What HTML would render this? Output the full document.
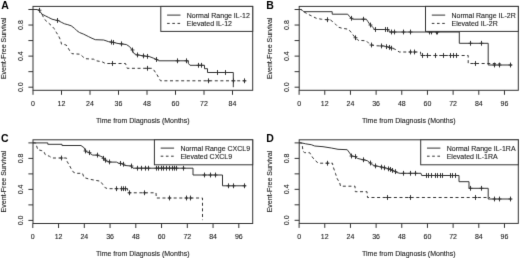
<!DOCTYPE html><html><head><meta charset="utf-8"><style>html,body{margin:0;padding:0;background:#fff;width:520px;height:258px;overflow:hidden}svg{display:block;filter:grayscale(1) }text{fill:#1a1a1a;stroke:#1a1a1a;stroke-width:0.1px}</style></head><body>
<svg width="520" height="258" viewBox="0 0 520 258" font-family="Liberation Sans, sans-serif" fill="#333">
<defs><filter id="bl" color-interpolation-filters="sRGB" x="0" y="0" width="520" height="258" filterUnits="userSpaceOnUse"><feConvolveMatrix order="3" kernelMatrix="0 1 0 1 8 1 0 1 0" edgeMode="duplicate" preserveAlpha="true"/></filter></defs>
<g filter="url(#bl)">
<rect x="0" y="0" width="520" height="258" fill="#fff" stroke="none"/>
<polyline points="33.00,9.50 37.50,9.50 39.00,10.20 42.00,14.20 45.30,15.80 48.70,17.50 52.00,19.20 55.30,20.00 58.00,20.50 61.20,22.20 64.50,23.80 67.80,24.70 71.20,25.80 74.50,28.30 77.00,30.80 79.50,32.50 83.70,34.20 88.70,36.70 92.00,38.30 95.30,39.70 103.70,40.00 108.70,41.70 113.70,42.50 118.00,43.50 126.30,44.50 129.70,46.70 132.20,50.00 133.80,53.30 136.30,54.70 143.00,55.80 149.70,56.70 153.80,58.30 156.70,59.50 158.80,60.80 188.30,60.80 188.30,63.30 190.00,65.30 204.50,65.30 204.50,68.70 207.50,68.70 207.50,72.50 233.30,72.50 233.30,87.20" fill="none" stroke="#333" stroke-width="1"/>
<path d="M39.50 7.80V12.60M37.60 10.20H41.40" stroke="#333" stroke-width="1"/>
<path d="M57.50 18.06V22.86M55.60 20.46H59.40" stroke="#333" stroke-width="1"/>
<path d="M111.50 39.70V44.50M109.60 42.10H113.40" stroke="#333" stroke-width="1"/>
<path d="M113.50 40.10V44.90M111.60 42.50H115.40" stroke="#333" stroke-width="1"/>
<path d="M121.50 41.46V46.26M119.60 43.86H123.40" stroke="#333" stroke-width="1"/>
<path d="M132.50 47.60V52.40M130.60 50.00H134.40" stroke="#333" stroke-width="1"/>
<path d="M137.50 52.53V57.33M135.60 54.93H139.40" stroke="#333" stroke-width="1"/>
<path d="M143.50 53.51V58.31M141.60 55.91H145.40" stroke="#333" stroke-width="1"/>
<path d="M147.50 53.96V58.76M145.60 56.36H149.40" stroke="#333" stroke-width="1"/>
<path d="M156.50 57.10V61.90M154.60 59.50H158.40" stroke="#333" stroke-width="1"/>
<path d="M177.50 58.40V63.20M175.60 60.80H179.40" stroke="#333" stroke-width="1"/>
<path d="M186.50 58.40V63.20M184.60 60.80H188.40" stroke="#333" stroke-width="1"/>
<path d="M198.50 62.90V67.70M196.60 65.30H200.40" stroke="#333" stroke-width="1"/>
<path d="M201.50 62.90V67.70M199.60 65.30H203.40" stroke="#333" stroke-width="1"/>
<path d="M217.50 70.10V74.90M215.60 72.50H219.40" stroke="#333" stroke-width="1"/>
<path d="M225.50 70.10V74.90M223.60 72.50H227.40" stroke="#333" stroke-width="1"/>
<polyline points="33.00,9.50 37.50,9.50 40.50,12.50 42.50,15.50 44.70,19.50 48.00,22.60 51.00,25.20 54.00,28.40 56.20,32.20 58.50,35.80 60.50,40.00 61.50,44.20 62.80,44.20 66.20,45.00 67.80,47.50 70.30,51.70 72.00,53.70 80.30,54.20 82.80,56.70 85.30,58.70 93.70,59.20 96.20,60.80 102.00,61.70 105.30,63.50 125.50,63.50 127.20,68.30 152.20,68.30 153.80,70.00 157.20,75.00 160.50,80.80 246.70,80.80" fill="none" stroke="#333" stroke-width="1" stroke-dasharray="3,2.6"/>
<path d="M112.50 61.10V65.90M110.60 63.50H114.40" stroke="#333" stroke-width="1"/>
<path d="M147.50 65.90V70.70M145.60 68.30H149.40" stroke="#333" stroke-width="1"/>
<path d="M208.50 78.40V83.20M206.60 80.80H210.40" stroke="#333" stroke-width="1"/>
<path d="M233.50 78.40V83.20M231.60 80.80H235.40" stroke="#333" stroke-width="1"/>
<path d="M244.50 78.40V83.20M242.60 80.80H246.40" stroke="#333" stroke-width="1"/>
<polyline points="299.30,9.50 301.50,9.50 302.50,10.50 303.80,11.70 332.20,11.70 332.20,14.20 347.70,14.20 349.70,16.70 351.30,18.30 353.00,19.20 366.30,19.20 368.00,21.70 369.70,24.20 371.30,25.80 373.00,27.50 374.70,29.50 388.80,29.50 389.20,32.00 459.30,32.00 459.30,43.30 488.20,43.30 488.20,65.00 512.00,65.00" fill="none" stroke="#333" stroke-width="1"/>
<path d="M351.50 15.90V20.70M349.60 18.30H353.40" stroke="#333" stroke-width="1"/>
<path d="M363.50 16.80V21.60M361.60 19.20H365.40" stroke="#333" stroke-width="1"/>
<path d="M370.50 22.60V27.40M368.60 25.00H372.40" stroke="#333" stroke-width="1"/>
<path d="M375.50 27.10V31.90M373.60 29.50H377.40" stroke="#333" stroke-width="1"/>
<path d="M385.50 27.10V31.90M383.60 29.50H387.40" stroke="#333" stroke-width="1"/>
<path d="M387.50 27.10V31.90M385.60 29.50H389.40" stroke="#333" stroke-width="1"/>
<path d="M391.50 29.60V34.40M389.60 32.00H393.40" stroke="#333" stroke-width="1"/>
<path d="M394.50 29.60V34.40M392.60 32.00H396.40" stroke="#333" stroke-width="1"/>
<path d="M403.50 29.60V34.40M401.60 32.00H405.40" stroke="#333" stroke-width="1"/>
<path d="M410.50 29.60V34.40M408.60 32.00H412.40" stroke="#333" stroke-width="1"/>
<path d="M429.50 29.60V34.40M427.60 32.00H431.40" stroke="#333" stroke-width="1"/>
<path d="M431.50 29.60V34.40M429.60 32.00H433.40" stroke="#333" stroke-width="1"/>
<path d="M436.50 29.60V34.40M434.60 32.00H438.40" stroke="#333" stroke-width="1"/>
<path d="M437.50 29.60V34.40M435.60 32.00H439.40" stroke="#333" stroke-width="1"/>
<path d="M470.50 40.90V45.70M468.60 43.30H472.40" stroke="#333" stroke-width="1"/>
<path d="M481.50 40.90V45.70M479.60 43.30H483.40" stroke="#333" stroke-width="1"/>
<path d="M494.50 62.60V67.40M492.60 65.00H496.40" stroke="#333" stroke-width="1"/>
<path d="M499.50 62.60V67.40M497.60 65.00H501.40" stroke="#333" stroke-width="1"/>
<path d="M510.50 62.60V67.40M508.60 65.00H512.40" stroke="#333" stroke-width="1"/>
<polyline points="299.30,9.50 301.00,9.50 303.00,11.30 308.00,14.20 311.30,15.80 316.30,18.30 321.30,19.20 330.50,20.00 333.80,22.50 335.50,24.20 338.40,27.20 342.20,28.30 348.40,29.20 351.30,32.50 353.80,36.00 358.00,40.30 366.30,40.80 368.80,43.30 371.30,45.00 376.30,45.80 384.00,46.00 388.00,47.00 395.00,49.20 397.50,50.80 399.20,52.00 420.50,52.00 420.80,55.50 468.20,55.50 468.20,63.50 500.50,63.50" fill="none" stroke="#333" stroke-width="1" stroke-dasharray="3,2.6"/>
<path d="M327.50 17.31V22.11M325.60 19.71H329.40" stroke="#333" stroke-width="1"/>
<path d="M355.50 35.34V40.14M353.60 37.74H357.40" stroke="#333" stroke-width="1"/>
<path d="M371.50 42.60V47.40M369.60 45.00H373.40" stroke="#333" stroke-width="1"/>
<path d="M381.50 43.54V48.34M379.60 45.94H383.40" stroke="#333" stroke-width="1"/>
<path d="M386.50 44.27V49.07M384.60 46.67H388.40" stroke="#333" stroke-width="1"/>
<path d="M389.50 44.98V49.78M387.60 47.38H391.40" stroke="#333" stroke-width="1"/>
<path d="M391.50 45.76V50.56M389.60 48.16H393.40" stroke="#333" stroke-width="1"/>
<path d="M410.50 49.60V54.40M408.60 52.00H412.40" stroke="#333" stroke-width="1"/>
<path d="M414.50 49.60V54.40M412.60 52.00H416.40" stroke="#333" stroke-width="1"/>
<path d="M422.50 53.10V57.90M420.60 55.50H424.40" stroke="#333" stroke-width="1"/>
<path d="M427.50 53.10V57.90M425.60 55.50H429.40" stroke="#333" stroke-width="1"/>
<path d="M435.50 53.10V57.90M433.60 55.50H437.40" stroke="#333" stroke-width="1"/>
<path d="M443.50 53.10V57.90M441.60 55.50H445.40" stroke="#333" stroke-width="1"/>
<path d="M450.50 53.10V57.90M448.60 55.50H452.40" stroke="#333" stroke-width="1"/>
<path d="M453.50 53.10V57.90M451.60 55.50H455.40" stroke="#333" stroke-width="1"/>
<path d="M456.50 53.10V57.90M454.60 55.50H458.40" stroke="#333" stroke-width="1"/>
<path d="M475.50 61.10V65.90M473.60 63.50H477.40" stroke="#333" stroke-width="1"/>
<polyline points="33.00,142.90 47.80,142.90 47.80,144.30 62.00,144.30 62.00,145.50 81.00,145.50 83.00,147.00 84.20,147.80 85.30,151.00 87.00,152.00 89.20,152.40 90.90,154.00 92.70,155.10 97.00,155.10 100.80,156.30 103.10,157.40 104.30,159.20 106.00,160.90 110.10,162.10 116.50,162.10 118.80,163.30 122.00,163.50 124.70,165.50 131.30,166.00 133.00,168.20 193.00,168.20 193.00,175.00 222.50,175.00 222.50,185.80 246.00,185.80" fill="none" stroke="#333" stroke-width="1"/>
<path d="M85.50 148.60V153.40M83.60 151.00H87.40" stroke="#333" stroke-width="1"/>
<path d="M89.50 150.28V155.08M87.60 152.68H91.40" stroke="#333" stroke-width="1"/>
<path d="M97.50 152.70V157.50M95.60 155.10H99.40" stroke="#333" stroke-width="1"/>
<path d="M103.50 155.90V160.70M101.60 158.30H105.40" stroke="#333" stroke-width="1"/>
<path d="M105.50 157.80V162.60M103.60 160.20H107.40" stroke="#333" stroke-width="1"/>
<path d="M109.50 159.52V164.32M107.60 161.92H111.40" stroke="#333" stroke-width="1"/>
<path d="M120.50 161.01V165.81M118.60 163.41H122.40" stroke="#333" stroke-width="1"/>
<path d="M123.50 161.84V166.64M121.60 164.24H125.40" stroke="#333" stroke-width="1"/>
<path d="M131.50 163.60V168.40M129.60 166.00H133.40" stroke="#333" stroke-width="1"/>
<path d="M137.50 165.80V170.60M135.60 168.20H139.40" stroke="#333" stroke-width="1"/>
<path d="M141.50 165.80V170.60M139.60 168.20H143.40" stroke="#333" stroke-width="1"/>
<path d="M145.50 165.80V170.60M143.60 168.20H147.40" stroke="#333" stroke-width="1"/>
<path d="M148.50 165.80V170.60M146.60 168.20H150.40" stroke="#333" stroke-width="1"/>
<path d="M156.50 165.80V170.60M154.60 168.20H158.40" stroke="#333" stroke-width="1"/>
<path d="M158.50 165.80V170.60M156.60 168.20H160.40" stroke="#333" stroke-width="1"/>
<path d="M161.50 165.80V170.60M159.60 168.20H163.40" stroke="#333" stroke-width="1"/>
<path d="M163.50 165.80V170.60M161.60 168.20H165.40" stroke="#333" stroke-width="1"/>
<path d="M166.50 165.80V170.60M164.60 168.20H168.40" stroke="#333" stroke-width="1"/>
<path d="M169.50 165.80V170.60M167.60 168.20H171.40" stroke="#333" stroke-width="1"/>
<path d="M172.50 165.80V170.60M170.60 168.20H174.40" stroke="#333" stroke-width="1"/>
<path d="M174.50 165.80V170.60M172.60 168.20H176.40" stroke="#333" stroke-width="1"/>
<path d="M176.50 165.80V170.60M174.60 168.20H178.40" stroke="#333" stroke-width="1"/>
<path d="M183.50 165.80V170.60M181.60 168.20H185.40" stroke="#333" stroke-width="1"/>
<path d="M204.50 172.60V177.40M202.60 175.00H206.40" stroke="#333" stroke-width="1"/>
<path d="M210.50 172.60V177.40M208.60 175.00H212.40" stroke="#333" stroke-width="1"/>
<path d="M215.50 172.60V177.40M213.60 175.00H217.40" stroke="#333" stroke-width="1"/>
<path d="M228.50 183.40V188.20M226.60 185.80H230.40" stroke="#333" stroke-width="1"/>
<path d="M233.50 183.40V188.20M231.60 185.80H235.40" stroke="#333" stroke-width="1"/>
<path d="M244.50 183.40V188.20M242.60 185.80H246.40" stroke="#333" stroke-width="1"/>
<polyline points="33.00,142.90 35.50,142.90 36.20,144.70 37.80,149.70 41.20,150.50 43.70,151.30 45.30,154.70 49.50,156.30 52.00,158.00 66.50,158.00 67.00,161.30 69.50,165.50 71.20,168.80 73.70,172.50 77.00,173.30 82.50,173.30 84.00,177.50 88.70,179.00 92.00,179.70 100.30,181.20 102.80,184.50 105.30,187.80 107.80,188.70 127.50,188.70 127.80,192.80 156.00,192.80 156.30,198.00 202.50,198.00 202.50,220.10" fill="none" stroke="#333" stroke-width="1" stroke-dasharray="3,2.6"/>
<path d="M61.50 155.60V160.40M59.60 158.00H63.40" stroke="#333" stroke-width="1"/>
<path d="M116.50 186.30V191.10M114.60 188.70H118.40" stroke="#333" stroke-width="1"/>
<path d="M121.50 186.30V191.10M119.60 188.70H123.40" stroke="#333" stroke-width="1"/>
<path d="M123.50 186.30V191.10M121.60 188.70H125.40" stroke="#333" stroke-width="1"/>
<path d="M125.50 186.30V191.10M123.60 188.70H127.40" stroke="#333" stroke-width="1"/>
<path d="M129.50 190.40V195.20M127.60 192.80H131.40" stroke="#333" stroke-width="1"/>
<path d="M144.50 190.40V195.20M142.60 192.80H146.40" stroke="#333" stroke-width="1"/>
<path d="M169.50 195.60V200.40M167.60 198.00H171.40" stroke="#333" stroke-width="1"/>
<path d="M186.50 195.60V200.40M184.60 198.00H188.40" stroke="#333" stroke-width="1"/>
<path d="M190.50 195.60V200.40M188.60 198.00H192.40" stroke="#333" stroke-width="1"/>
<polyline points="299.30,142.90 301.00,142.90 303.00,143.20 305.50,143.80 311.30,144.70 314.70,146.00 323.00,146.70 331.30,148.00 338.00,149.30 347.20,149.70 349.70,153.00 351.60,156.00 355.10,156.60 357.40,158.40 362.10,159.50 367.30,160.70 370.20,163.00 372.60,164.80 374.90,165.90 379.50,166.50 386.70,168.30 391.70,170.00 396.70,172.50 400.00,173.30 421.00,173.30 421.70,175.50 459.00,175.50 459.00,181.70 469.00,181.70 469.00,188.30 488.20,188.30 488.20,199.00 511.50,199.00" fill="none" stroke="#333" stroke-width="1"/>
<path d="M351.50 153.62V158.42M349.60 156.02H353.40" stroke="#333" stroke-width="1"/>
<path d="M355.50 154.20V159.00M353.60 156.60H357.40" stroke="#333" stroke-width="1"/>
<path d="M363.50 157.38V162.18M361.60 159.78H365.40" stroke="#333" stroke-width="1"/>
<path d="M370.50 160.60V165.40M368.60 163.00H372.40" stroke="#333" stroke-width="1"/>
<path d="M375.50 163.51V168.31M373.60 165.91H377.40" stroke="#333" stroke-width="1"/>
<path d="M381.50 164.70V169.50M379.60 167.10H383.40" stroke="#333" stroke-width="1"/>
<path d="M384.50 165.43V170.23M382.60 167.83H386.40" stroke="#333" stroke-width="1"/>
<path d="M388.50 166.44V171.24M386.60 168.84H390.40" stroke="#333" stroke-width="1"/>
<path d="M390.50 167.02V171.82M388.60 169.42H392.40" stroke="#333" stroke-width="1"/>
<path d="M392.50 168.00V172.80M390.60 170.40H394.40" stroke="#333" stroke-width="1"/>
<path d="M395.50 169.25V174.05M393.60 171.65H397.40" stroke="#333" stroke-width="1"/>
<path d="M403.50 170.90V175.70M401.60 173.30H405.40" stroke="#333" stroke-width="1"/>
<path d="M410.50 170.90V175.70M408.60 173.30H412.40" stroke="#333" stroke-width="1"/>
<path d="M415.50 170.90V175.70M413.60 173.30H417.40" stroke="#333" stroke-width="1"/>
<path d="M426.50 173.10V177.90M424.60 175.50H428.40" stroke="#333" stroke-width="1"/>
<path d="M428.50 173.10V177.90M426.60 175.50H430.40" stroke="#333" stroke-width="1"/>
<path d="M431.50 173.10V177.90M429.60 175.50H433.40" stroke="#333" stroke-width="1"/>
<path d="M435.50 173.10V177.90M433.60 175.50H437.40" stroke="#333" stroke-width="1"/>
<path d="M437.50 173.10V177.90M435.60 175.50H439.40" stroke="#333" stroke-width="1"/>
<path d="M440.50 173.10V177.90M438.60 175.50H442.40" stroke="#333" stroke-width="1"/>
<path d="M442.50 173.10V177.90M440.60 175.50H444.40" stroke="#333" stroke-width="1"/>
<path d="M450.50 173.10V177.90M448.60 175.50H452.40" stroke="#333" stroke-width="1"/>
<path d="M452.50 173.10V177.90M450.60 175.50H454.40" stroke="#333" stroke-width="1"/>
<path d="M455.50 173.10V177.90M453.60 175.50H457.40" stroke="#333" stroke-width="1"/>
<path d="M470.50 185.90V190.70M468.60 188.30H472.40" stroke="#333" stroke-width="1"/>
<path d="M481.50 185.90V190.70M479.60 188.30H483.40" stroke="#333" stroke-width="1"/>
<path d="M494.50 196.60V201.40M492.60 199.00H496.40" stroke="#333" stroke-width="1"/>
<path d="M499.50 196.60V201.40M497.60 199.00H501.40" stroke="#333" stroke-width="1"/>
<path d="M510.50 196.60V201.40M508.60 199.00H512.40" stroke="#333" stroke-width="1"/>
<polyline points="299.30,142.90 301.50,142.90 302.20,144.70 303.00,151.30 304.70,152.70 309.70,152.70 311.30,155.50 313.00,158.00 315.50,160.50 318.00,163.20 332.50,163.20 333.00,166.30 335.50,173.50 337.20,178.70 339.70,182.80 340.50,186.20 355.00,186.20 355.30,191.70 367.00,191.70 367.50,197.50 490.00,197.50" fill="none" stroke="#333" stroke-width="1" stroke-dasharray="3,2.6"/>
<path d="M327.50 160.80V165.60M325.60 163.20H329.40" stroke="#333" stroke-width="1"/>
<path d="M387.50 195.10V199.90M385.60 197.50H389.40" stroke="#333" stroke-width="1"/>
<path d="M410.50 195.10V199.90M408.60 197.50H412.40" stroke="#333" stroke-width="1"/>
<path d="M475.50 195.10V199.90M473.60 197.50H477.40" stroke="#333" stroke-width="1"/>
<rect x="33" y="6.4" width="219.7" height="83.89999999999999" fill="none" stroke="#333" stroke-width="1"/>
<line x1="33.00" y1="90.3" x2="33.00" y2="94.8" stroke="#333" stroke-width="1"/>
<text x="33.00" y="105.6" text-anchor="middle" font-size="7">0</text>
<line x1="61.50" y1="90.3" x2="61.50" y2="94.8" stroke="#333" stroke-width="1"/>
<text x="61.50" y="105.6" text-anchor="middle" font-size="7">12</text>
<line x1="90.00" y1="90.3" x2="90.00" y2="94.8" stroke="#333" stroke-width="1"/>
<text x="90.00" y="105.6" text-anchor="middle" font-size="7">24</text>
<line x1="118.50" y1="90.3" x2="118.50" y2="94.8" stroke="#333" stroke-width="1"/>
<text x="118.50" y="105.6" text-anchor="middle" font-size="7">36</text>
<line x1="147.00" y1="90.3" x2="147.00" y2="94.8" stroke="#333" stroke-width="1"/>
<text x="147.00" y="105.6" text-anchor="middle" font-size="7">48</text>
<line x1="175.50" y1="90.3" x2="175.50" y2="94.8" stroke="#333" stroke-width="1"/>
<text x="175.50" y="105.6" text-anchor="middle" font-size="7">60</text>
<line x1="204.00" y1="90.3" x2="204.00" y2="94.8" stroke="#333" stroke-width="1"/>
<text x="204.00" y="105.6" text-anchor="middle" font-size="7">72</text>
<line x1="232.50" y1="90.3" x2="232.50" y2="94.8" stroke="#333" stroke-width="1"/>
<text x="232.50" y="105.6" text-anchor="middle" font-size="7">84</text>
<line x1="28.4" y1="87.19" x2="33" y2="87.19" stroke="#333" stroke-width="1"/>
<line x1="28.4" y1="71.66" x2="33" y2="71.66" stroke="#333" stroke-width="1"/>
<line x1="28.4" y1="56.12" x2="33" y2="56.12" stroke="#333" stroke-width="1"/>
<line x1="28.4" y1="40.58" x2="33" y2="40.58" stroke="#333" stroke-width="1"/>
<line x1="28.4" y1="25.04" x2="33" y2="25.04" stroke="#333" stroke-width="1"/>
<line x1="28.4" y1="9.51" x2="33" y2="9.51" stroke="#333" stroke-width="1"/>
<text transform="translate(23.2,87.19) rotate(-90)" text-anchor="middle" font-size="7">0.0</text>
<text transform="translate(23.2,56.12) rotate(-90)" text-anchor="middle" font-size="7">0.4</text>
<text transform="translate(23.2,25.04) rotate(-90)" text-anchor="middle" font-size="7">0.8</text>
<text x="142.85" y="122.6" text-anchor="middle" font-size="7">Time from Diagnosis (Months)</text>
<text transform="translate(5.600000000000001,48.35) rotate(-90)" text-anchor="middle" font-size="7">Event-Free Survival</text>
<text x="1.2" y="9.0" font-size="10.5" font-weight="bold" style="fill:#000;stroke:none" fill="#000">A</text>
<rect x="160.80" y="6.4" width="91.90" height="25.0" fill="#fff" stroke="#333" stroke-width="1"/>
<line x1="167.10" y1="15.1" x2="180.50" y2="15.1" stroke="#333" stroke-width="1"/>
<line x1="167.10" y1="23.4" x2="180.50" y2="23.4" stroke="#333" stroke-width="1" stroke-dasharray="2.6,2.6"/>
<text x="186.80" y="17.9" font-size="7">Normal Range IL-12</text>
<text x="186.80" y="25.9" font-size="7">Elevated IL-12</text>
<rect x="299.2" y="6.4" width="219.09999999999997" height="83.89999999999999" fill="none" stroke="#333" stroke-width="1"/>
<line x1="299.10" y1="90.3" x2="299.10" y2="94.8" stroke="#333" stroke-width="1"/>
<text x="299.10" y="105.6" text-anchor="middle" font-size="7">0</text>
<line x1="324.77" y1="90.3" x2="324.77" y2="94.8" stroke="#333" stroke-width="1"/>
<text x="324.77" y="105.6" text-anchor="middle" font-size="7">12</text>
<line x1="350.44" y1="90.3" x2="350.44" y2="94.8" stroke="#333" stroke-width="1"/>
<text x="350.44" y="105.6" text-anchor="middle" font-size="7">24</text>
<line x1="376.11" y1="90.3" x2="376.11" y2="94.8" stroke="#333" stroke-width="1"/>
<text x="376.11" y="105.6" text-anchor="middle" font-size="7">36</text>
<line x1="401.78" y1="90.3" x2="401.78" y2="94.8" stroke="#333" stroke-width="1"/>
<text x="401.78" y="105.6" text-anchor="middle" font-size="7">48</text>
<line x1="427.45" y1="90.3" x2="427.45" y2="94.8" stroke="#333" stroke-width="1"/>
<text x="427.45" y="105.6" text-anchor="middle" font-size="7">60</text>
<line x1="453.12" y1="90.3" x2="453.12" y2="94.8" stroke="#333" stroke-width="1"/>
<text x="453.12" y="105.6" text-anchor="middle" font-size="7">72</text>
<line x1="478.79" y1="90.3" x2="478.79" y2="94.8" stroke="#333" stroke-width="1"/>
<text x="478.79" y="105.6" text-anchor="middle" font-size="7">84</text>
<line x1="504.46" y1="90.3" x2="504.46" y2="94.8" stroke="#333" stroke-width="1"/>
<text x="504.46" y="105.6" text-anchor="middle" font-size="7">96</text>
<line x1="294.59999999999997" y1="87.19" x2="299.2" y2="87.19" stroke="#333" stroke-width="1"/>
<line x1="294.59999999999997" y1="71.66" x2="299.2" y2="71.66" stroke="#333" stroke-width="1"/>
<line x1="294.59999999999997" y1="56.12" x2="299.2" y2="56.12" stroke="#333" stroke-width="1"/>
<line x1="294.59999999999997" y1="40.58" x2="299.2" y2="40.58" stroke="#333" stroke-width="1"/>
<line x1="294.59999999999997" y1="25.04" x2="299.2" y2="25.04" stroke="#333" stroke-width="1"/>
<line x1="294.59999999999997" y1="9.51" x2="299.2" y2="9.51" stroke="#333" stroke-width="1"/>
<text transform="translate(289.4,87.19) rotate(-90)" text-anchor="middle" font-size="7">0.0</text>
<text transform="translate(289.4,56.12) rotate(-90)" text-anchor="middle" font-size="7">0.4</text>
<text transform="translate(289.4,25.04) rotate(-90)" text-anchor="middle" font-size="7">0.8</text>
<text x="408.75" y="122.6" text-anchor="middle" font-size="7">Time from Diagnosis (Months)</text>
<text transform="translate(271.8,48.35) rotate(-90)" text-anchor="middle" font-size="7">Event-Free Survival</text>
<text x="266.3" y="9.0" font-size="10.5" font-weight="bold" style="fill:#000;stroke:none" fill="#000">B</text>
<rect x="425.50" y="6.4" width="92.80" height="25.0" fill="#fff" stroke="#333" stroke-width="1"/>
<line x1="431.80" y1="15.1" x2="445.20" y2="15.1" stroke="#333" stroke-width="1"/>
<line x1="431.80" y1="23.4" x2="445.20" y2="23.4" stroke="#333" stroke-width="1" stroke-dasharray="2.6,2.6"/>
<text x="451.50" y="17.9" font-size="7">Normal Range IL-2R</text>
<text x="451.50" y="25.9" font-size="7">Elevated IL-2R</text>
<rect x="33" y="139.8" width="219.7" height="83.69999999999999" fill="none" stroke="#333" stroke-width="1"/>
<line x1="32.80" y1="223.5" x2="32.80" y2="228.0" stroke="#333" stroke-width="1"/>
<text x="32.80" y="238.8" text-anchor="middle" font-size="7">0</text>
<line x1="58.55" y1="223.5" x2="58.55" y2="228.0" stroke="#333" stroke-width="1"/>
<text x="58.55" y="238.8" text-anchor="middle" font-size="7">12</text>
<line x1="84.30" y1="223.5" x2="84.30" y2="228.0" stroke="#333" stroke-width="1"/>
<text x="84.30" y="238.8" text-anchor="middle" font-size="7">24</text>
<line x1="110.05" y1="223.5" x2="110.05" y2="228.0" stroke="#333" stroke-width="1"/>
<text x="110.05" y="238.8" text-anchor="middle" font-size="7">36</text>
<line x1="135.80" y1="223.5" x2="135.80" y2="228.0" stroke="#333" stroke-width="1"/>
<text x="135.80" y="238.8" text-anchor="middle" font-size="7">48</text>
<line x1="161.55" y1="223.5" x2="161.55" y2="228.0" stroke="#333" stroke-width="1"/>
<text x="161.55" y="238.8" text-anchor="middle" font-size="7">60</text>
<line x1="187.30" y1="223.5" x2="187.30" y2="228.0" stroke="#333" stroke-width="1"/>
<text x="187.30" y="238.8" text-anchor="middle" font-size="7">72</text>
<line x1="213.05" y1="223.5" x2="213.05" y2="228.0" stroke="#333" stroke-width="1"/>
<text x="213.05" y="238.8" text-anchor="middle" font-size="7">84</text>
<line x1="238.80" y1="223.5" x2="238.80" y2="228.0" stroke="#333" stroke-width="1"/>
<text x="238.80" y="238.8" text-anchor="middle" font-size="7">96</text>
<line x1="28.4" y1="220.40" x2="33" y2="220.40" stroke="#333" stroke-width="1"/>
<line x1="28.4" y1="204.90" x2="33" y2="204.90" stroke="#333" stroke-width="1"/>
<line x1="28.4" y1="189.40" x2="33" y2="189.40" stroke="#333" stroke-width="1"/>
<line x1="28.4" y1="173.90" x2="33" y2="173.90" stroke="#333" stroke-width="1"/>
<line x1="28.4" y1="158.40" x2="33" y2="158.40" stroke="#333" stroke-width="1"/>
<line x1="28.4" y1="142.90" x2="33" y2="142.90" stroke="#333" stroke-width="1"/>
<text transform="translate(23.2,220.40) rotate(-90)" text-anchor="middle" font-size="7">0.0</text>
<text transform="translate(23.2,189.40) rotate(-90)" text-anchor="middle" font-size="7">0.4</text>
<text transform="translate(23.2,158.40) rotate(-90)" text-anchor="middle" font-size="7">0.8</text>
<text x="142.85" y="255.8" text-anchor="middle" font-size="7">Time from Diagnosis (Months)</text>
<text transform="translate(5.600000000000001,181.65) rotate(-90)" text-anchor="middle" font-size="7">Event-Free Survival</text>
<text x="1.0" y="141.6" font-size="10.5" font-weight="bold" style="fill:#000;stroke:none" fill="#000">C</text>
<rect x="154.40" y="139.8" width="98.30" height="25.0" fill="#fff" stroke="#333" stroke-width="1"/>
<line x1="160.70" y1="148.10000000000002" x2="174.10" y2="148.10000000000002" stroke="#333" stroke-width="1"/>
<line x1="160.70" y1="156.20000000000002" x2="174.10" y2="156.20000000000002" stroke="#333" stroke-width="1" stroke-dasharray="2.6,2.6"/>
<text x="180.40" y="151.3" font-size="7">Normal Range CXCL9</text>
<text x="180.40" y="159.3" font-size="7">Elevated CXCL9</text>
<rect x="299.2" y="139.8" width="219.09999999999997" height="83.6" fill="none" stroke="#333" stroke-width="1"/>
<line x1="299.10" y1="223.4" x2="299.10" y2="227.9" stroke="#333" stroke-width="1"/>
<text x="299.10" y="238.70000000000002" text-anchor="middle" font-size="7">0</text>
<line x1="324.77" y1="223.4" x2="324.77" y2="227.9" stroke="#333" stroke-width="1"/>
<text x="324.77" y="238.70000000000002" text-anchor="middle" font-size="7">12</text>
<line x1="350.44" y1="223.4" x2="350.44" y2="227.9" stroke="#333" stroke-width="1"/>
<text x="350.44" y="238.70000000000002" text-anchor="middle" font-size="7">24</text>
<line x1="376.11" y1="223.4" x2="376.11" y2="227.9" stroke="#333" stroke-width="1"/>
<text x="376.11" y="238.70000000000002" text-anchor="middle" font-size="7">36</text>
<line x1="401.78" y1="223.4" x2="401.78" y2="227.9" stroke="#333" stroke-width="1"/>
<text x="401.78" y="238.70000000000002" text-anchor="middle" font-size="7">48</text>
<line x1="427.45" y1="223.4" x2="427.45" y2="227.9" stroke="#333" stroke-width="1"/>
<text x="427.45" y="238.70000000000002" text-anchor="middle" font-size="7">60</text>
<line x1="453.12" y1="223.4" x2="453.12" y2="227.9" stroke="#333" stroke-width="1"/>
<text x="453.12" y="238.70000000000002" text-anchor="middle" font-size="7">72</text>
<line x1="478.79" y1="223.4" x2="478.79" y2="227.9" stroke="#333" stroke-width="1"/>
<text x="478.79" y="238.70000000000002" text-anchor="middle" font-size="7">84</text>
<line x1="504.46" y1="223.4" x2="504.46" y2="227.9" stroke="#333" stroke-width="1"/>
<text x="504.46" y="238.70000000000002" text-anchor="middle" font-size="7">96</text>
<line x1="294.59999999999997" y1="220.30" x2="299.2" y2="220.30" stroke="#333" stroke-width="1"/>
<line x1="294.59999999999997" y1="204.82" x2="299.2" y2="204.82" stroke="#333" stroke-width="1"/>
<line x1="294.59999999999997" y1="189.34" x2="299.2" y2="189.34" stroke="#333" stroke-width="1"/>
<line x1="294.59999999999997" y1="173.86" x2="299.2" y2="173.86" stroke="#333" stroke-width="1"/>
<line x1="294.59999999999997" y1="158.38" x2="299.2" y2="158.38" stroke="#333" stroke-width="1"/>
<line x1="294.59999999999997" y1="142.90" x2="299.2" y2="142.90" stroke="#333" stroke-width="1"/>
<text transform="translate(289.4,220.30) rotate(-90)" text-anchor="middle" font-size="7">0.0</text>
<text transform="translate(289.4,189.34) rotate(-90)" text-anchor="middle" font-size="7">0.4</text>
<text transform="translate(289.4,158.38) rotate(-90)" text-anchor="middle" font-size="7">0.8</text>
<text x="408.75" y="255.7" text-anchor="middle" font-size="7">Time from Diagnosis (Months)</text>
<text transform="translate(271.8,181.60) rotate(-90)" text-anchor="middle" font-size="7">Event-Free Survival</text>
<text x="266.3" y="141.6" font-size="10.5" font-weight="bold" style="fill:#000;stroke:none" fill="#000">D</text>
<rect x="420.70" y="139.8" width="97.60" height="25.0" fill="#fff" stroke="#333" stroke-width="1"/>
<line x1="427.00" y1="148.10000000000002" x2="440.40" y2="148.10000000000002" stroke="#333" stroke-width="1"/>
<line x1="427.00" y1="156.20000000000002" x2="440.40" y2="156.20000000000002" stroke="#333" stroke-width="1" stroke-dasharray="2.6,2.6"/>
<text x="446.70" y="151.3" font-size="7">Normal Range IL-1RA</text>
<text x="446.70" y="159.3" font-size="7">Elevated IL-1RA</text>
</g>
</svg></body></html>
